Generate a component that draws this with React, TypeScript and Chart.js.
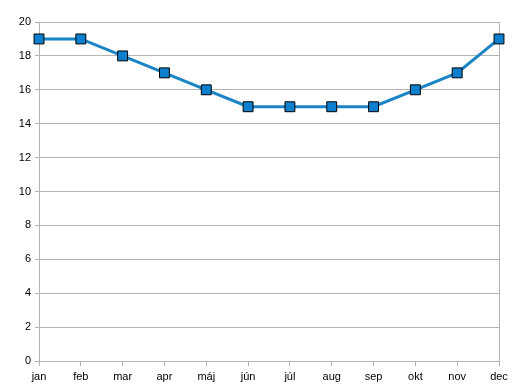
import React, { useEffect, useRef } from "react";
import { Chart, registerables } from "chart.js";

Chart.register(...registerables);

const months = ["jan", "feb", "mar", "apr", "máj", "jún", "júl", "aug", "sep", "okt", "nov", "dec"];
const values = [19, 19, 18, 17, 16, 15, 15, 15, 15, 16, 17, 19];
const yMin = 0;
const yMax = 20;
const yStep = 2;

export default function App() {
  const ref = useRef<HTMLCanvasElement>(null);
  useEffect(() => {
    document.body.style.margin = "0";
    const chart = new Chart(ref.current!, {
      type: "line",
      data: {
        labels: months,
        datasets: [
          {
            data: values,
            borderColor: "#1a84c7",
            borderWidth: 3,
            backgroundColor: "#0c7fcf",
            pointStyle: "rect",
            pointRadius: 7,
            pointBorderColor: "#000000",
            pointBorderWidth: 1,
            tension: 0,
          },
        ],
      },
      options: {
        animation: false,
        responsive: false,
        plugins: { legend: { display: false }, tooltip: { enabled: false } },
        layout: { padding: { top: 22, right: 13, left: 0, bottom: 0 } },
        scales: {
          x: {
            offset: false,
            afterFit: (s: any) => { s.height = 23; },
            grid: {
              color: (c: any) => (c.index === months.length - 1 ? "#b3b3b3" : "rgba(0,0,0,0)"),
              tickColor: "#b3b3b3",
              tickLength: 5,
            },
            border: { color: "#b3b3b3" },
            ticks: { color: "#000", font: { family: "Liberation Sans", size: 11 }, padding: 4, maxRotation: 0, autoSkip: false },
          },
          y: {
            min: yMin,
            max: yMax,
            afterFit: (s: any) => { s.width = 39; },
            grid: { color: "#b3b3b3", tickColor: "#b3b3b3", tickLength: 4 },
            border: { color: "#b3b3b3" },
            ticks: { stepSize: yStep, color: "#000", font: { family: "Liberation Sans", size: 11 }, padding: 4 },
          },
        },
      },
    });
    return () => chart.destroy();
  }, []);
  return <canvas ref={ref} width={512} height={384} style={{ display: "block" }} />;
}
